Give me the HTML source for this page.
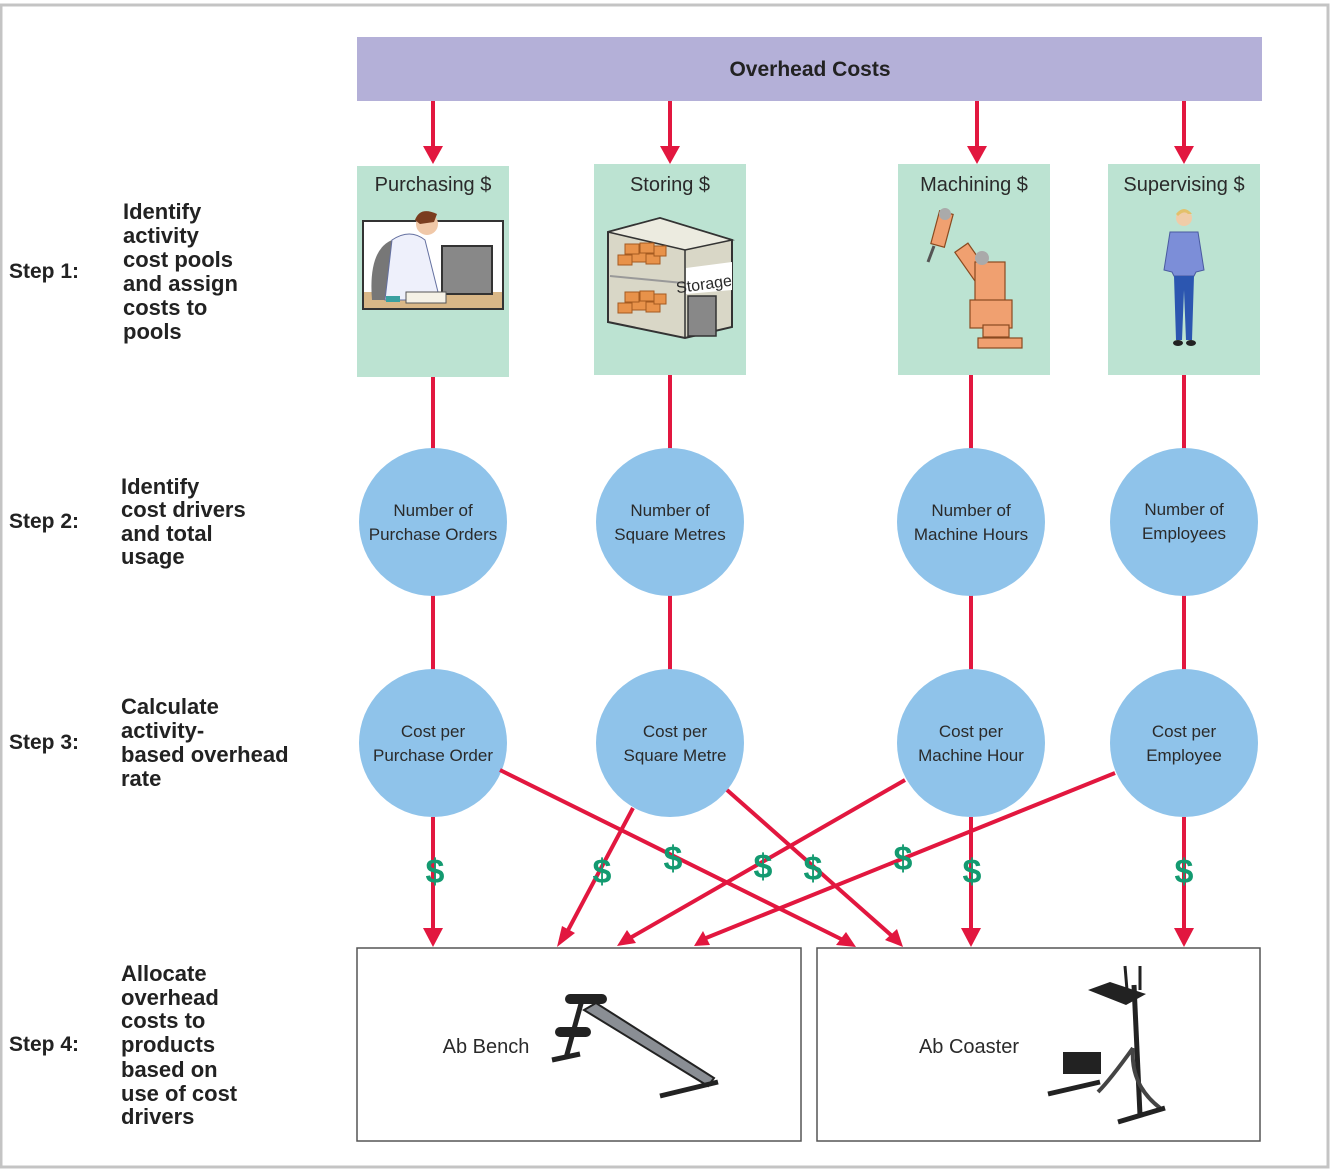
<!DOCTYPE html>
<html><head><meta charset="utf-8"><style>
html,body{margin:0;padding:0;background:#fff}
svg{display:block}
.t{font-family:"Liberation Sans",sans-serif;fill:#2a2a2a}
.b{font-family:"Liberation Sans",sans-serif;font-weight:bold;fill:#222}
</style></head><body>
<svg width="1334" height="1173" viewBox="0 0 1334 1173" xmlns="http://www.w3.org/2000/svg">
<defs>
<marker id="ah" markerWidth="10" markerHeight="10" refX="8" refY="5" orient="auto" markerUnits="userSpaceOnUse" viewBox="0 0 10 10">
</marker>
</defs>
<rect x="1" y="5" width="1327" height="1162" fill="none" stroke="#c4c4c4" stroke-width="3"/>
<!-- header -->
<rect x="357" y="37" width="905" height="64" fill="#b4b0d8"/>
<text x="810" y="76" text-anchor="middle" class="b" font-size="21">Overhead Costs</text>

<g stroke="#e2173f" stroke-width="4" fill="none">
<line x1="433" y1="101" x2="433" y2="150"/>
<line x1="670" y1="101" x2="670" y2="150"/>
<line x1="977" y1="101" x2="977" y2="150"/>
<line x1="1184" y1="101" x2="1184" y2="150"/>
<line x1="433" y1="377" x2="433" y2="450"/>
<line x1="670" y1="375" x2="670" y2="450"/>
<line x1="971" y1="375" x2="971" y2="450"/>
<line x1="1184" y1="375" x2="1184" y2="450"/>
<line x1="433" y1="595" x2="433" y2="670"/>
<line x1="670" y1="595" x2="670" y2="670"/>
<line x1="971" y1="595" x2="971" y2="670"/>
<line x1="1184" y1="595" x2="1184" y2="670"/>
</g>
<g fill="#e2173f">
<polygon points="423,146 443,146 433,164"/>
<polygon points="660,146 680,146 670,164"/>
<polygon points="967,146 987,146 977,164"/>
<polygon points="1174,146 1194,146 1184,164"/>
</g>

<!-- activity boxes -->
<rect x="357" y="166" width="152" height="211" fill="#bce3d2"/>
<rect x="594" y="164" width="152" height="211" fill="#bce3d2"/>
<rect x="898" y="164" width="152" height="211" fill="#bce3d2"/>
<rect x="1108" y="164" width="152" height="211" fill="#bce3d2"/>
<text x="433" y="191" text-anchor="middle" class="t" font-size="20">Purchasing $</text>
<text x="670" y="191" text-anchor="middle" class="t" font-size="20">Storing $</text>
<text x="974" y="191" text-anchor="middle" class="t" font-size="20">Machining $</text>
<text x="1184" y="191" text-anchor="middle" class="t" font-size="20">Supervising $</text>

<!-- purchasing illustration -->
<rect x="363" y="221" width="140" height="88" fill="#fff" stroke="#333" stroke-width="2"/>
<rect x="364" y="292" width="138" height="16" fill="#d9b787"/>
<path d="M372 300 Q368 250 392 240 L398 300Z" fill="#777"/>
<path d="M385 300 L392 240 Q410 228 425 240 L438 292 L410 300Z" fill="#eef0fb" stroke="#6470a0" stroke-width="1"/>
<circle cx="427" cy="224" r="11" fill="#f0c8a8"/>
<path d="M415 220 Q420 206 437 214 L434 222 L420 224Z" fill="#7a3d1f"/>
<rect x="442" y="246" width="50" height="48" fill="#888" stroke="#333" stroke-width="2"/>
<rect x="406" y="292" width="40" height="11" fill="#f5f1e6" stroke="#555" stroke-width="1"/>
<rect x="386" y="296" width="14" height="6" fill="#3aa0a0"/>

<!-- storage illustration -->
<polygon points="608,232 660,218 732,240 732,327 685,338 608,322" fill="#d9d7c7" stroke="#333" stroke-width="2"/>
<polygon points="608,232 660,218 732,240 685,250" fill="#ecebe0" stroke="#333" stroke-width="1.5"/>
<line x1="685" y1="250" x2="685" y2="338" stroke="#333" stroke-width="1.5"/>
<line x1="610" y1="276" x2="683" y2="283" stroke="#999" stroke-width="2"/>
<g fill="#e8924a" stroke="#a55a20" stroke-width="1">
<rect x="618" y="255" width="14" height="10"/><rect x="632" y="252" width="14" height="10"/><rect x="646" y="254" width="14" height="10"/><rect x="625" y="244" width="14" height="10"/><rect x="640" y="243" width="14" height="10"/><rect x="654" y="246" width="12" height="10"/>
<rect x="618" y="303" width="14" height="10"/><rect x="632" y="300" width="14" height="10"/><rect x="646" y="302" width="14" height="10"/><rect x="625" y="292" width="14" height="10"/><rect x="640" y="291" width="14" height="10"/><rect x="654" y="294" width="12" height="10"/>
</g>
<polygon points="686,268 732,262 732,290 686,294" fill="#fff"/>
<text x="676" y="290" class="t" font-size="16" transform="rotate(-8 700 285)">Storage</text>
<rect x="688" y="296" width="28" height="40" fill="#888" stroke="#333" stroke-width="1.5"/>

<!-- robot -->
<g fill="#f0a070" stroke="#8a4a20" stroke-width="1.2">
<rect x="962" y="245" width="16" height="60" transform="rotate(-35 970 260)"/>
<rect x="935" y="212" width="14" height="34" transform="rotate(15 942 229)"/>
<rect x="975" y="262" width="30" height="60"/>
<rect x="970" y="300" width="42" height="28"/>
<rect x="983" y="325" width="26" height="12"/>
<rect x="978" y="338" width="44" height="10"/>
</g>
<circle cx="945" cy="214" r="6" fill="#aaa"/><circle cx="982" cy="258" r="7" fill="#aaa"/>
<line x1="934" y1="246" x2="928" y2="262" stroke="#555" stroke-width="3"/>

<!-- woman -->
<circle cx="1184" cy="218" r="8" fill="#f0cca8"/>
<path d="M1176 214 Q1184 204 1192 214 L1188 214 Q1184 210 1178 216Z" fill="#e3c06a"/>
<path d="M1170 232 L1198 232 L1204 270 L1196 272 L1194 276 L1174 276 L1172 272 L1164 270Z" fill="#7c8ed8" stroke="#4a5aa0" stroke-width="1"/>
<path d="M1174 276 L1194 276 L1192 340 L1186 340 L1184 290 L1182 340 L1176 340Z" fill="#2c56b0"/>
<ellipse cx="1178" cy="343" rx="5" ry="3" fill="#222"/><ellipse cx="1191" cy="343" rx="5" ry="3" fill="#222"/>

<!-- circles -->
<g fill="#8fc3ea">
<circle cx="433" cy="522" r="74"/><circle cx="670" cy="522" r="74"/><circle cx="971" cy="522" r="74"/><circle cx="1184" cy="522" r="74"/>
<circle cx="433" cy="743" r="74"/><circle cx="670" cy="743" r="74"/><circle cx="971" cy="743" r="74"/><circle cx="1184" cy="743" r="74"/>
</g>
<g class="t" font-size="17" text-anchor="middle">
<text x="433" y="516">Number of</text><text x="433" y="540">Purchase Orders</text>
<text x="670" y="516">Number of</text><text x="670" y="540">Square Metres</text>
<text x="971" y="516">Number of</text><text x="971" y="540">Machine Hours</text>
<text x="1184" y="515">Number of</text><text x="1184" y="539">Employees</text>
<text x="433" y="737">Cost per</text><text x="433" y="761">Purchase Order</text>
<text x="675" y="737">Cost per</text><text x="675" y="761">Square Metre</text>
<text x="971" y="737">Cost per</text><text x="971" y="761">Machine Hour</text>
<text x="1184" y="737">Cost per</text><text x="1184" y="761">Employee</text>
</g>

<!-- allocation lines -->
<g stroke="#e2173f" stroke-width="4" fill="none">
<line x1="433" y1="817" x2="433" y2="932"/>
<line x1="500" y1="770" x2="843" y2="940"/>
<line x1="633" y1="808" x2="566" y2="934"/>
<line x1="727" y1="790" x2="892" y2="936"/>
<line x1="905" y1="780" x2="630" y2="938"/>
<line x1="971" y1="817" x2="971" y2="932"/>
<line x1="1115" y1="773" x2="706" y2="938"/>
<line x1="1184" y1="817" x2="1184" y2="932"/>
</g>
<g fill="#e2173f">
<polygon points="423,928 443,928 433,947"/>
<polygon points="961,928 981,928 971,947"/>
<polygon points="1174,928 1194,928 1184,947"/>
<polygon points="557,947 562,926 575,933"/>
<polygon points="617,946 627,930 636,943"/>
<polygon points="694,946 703,931 710,945"/>
<polygon points="856,947 836,945 846,932"/>
<polygon points="903,947 885,940 897,929"/>
</g>
<g font-family="Liberation Sans,sans-serif" font-weight="bold" font-size="34" fill="#139a70" text-anchor="middle">
<text x="435" y="883">$</text><text x="602" y="883">$</text><text x="673" y="870">$</text><text x="763" y="878">$</text>
<text x="813" y="880">$</text><text x="903" y="870">$</text><text x="972" y="883">$</text><text x="1184" y="883">$</text>
</g>

<!-- product boxes -->
<rect x="357" y="948" width="444" height="193" fill="#fff" stroke="#555" stroke-width="1.5"/>
<rect x="817" y="948" width="443" height="193" fill="#fff" stroke="#555" stroke-width="1.5"/>
<text x="486" y="1053" text-anchor="middle" class="t" font-size="20">Ab Bench</text>
<text x="969" y="1053" text-anchor="middle" class="t" font-size="20">Ab Coaster</text>
<!-- bench -->
<polygon points="584,1010 596,1003 714,1078 708,1086" fill="#8a8e94" stroke="#222" stroke-width="2"/>
<line x1="582" y1="1000" x2="566" y2="1058" stroke="#222" stroke-width="5"/>
<rect x="565" y="994" width="42" height="10" rx="5" fill="#222"/>
<rect x="555" y="1027" width="36" height="10" rx="5" fill="#222"/>
<line x1="552" y1="1060" x2="580" y2="1054" stroke="#222" stroke-width="5"/>
<line x1="660" y1="1096" x2="718" y2="1082" stroke="#222" stroke-width="5"/>
<!-- coaster -->
<line x1="1134" y1="985" x2="1140" y2="1115" stroke="#222" stroke-width="5"/>
<path d="M1088 990 L1110 982 L1146 994 L1126 1005Z" fill="#222"/>
<line x1="1125" y1="966" x2="1127" y2="990" stroke="#222" stroke-width="3"/>
<line x1="1140" y1="966" x2="1140" y2="990" stroke="#222" stroke-width="3"/>
<path d="M1133 1048 Q1110 1080 1098 1092 M1133 1048 Q1130 1085 1160 1108" stroke="#444" stroke-width="4" fill="none"/>
<rect x="1063" y="1052" width="38" height="22" fill="#222"/>
<line x1="1048" y1="1094" x2="1100" y2="1082" stroke="#222" stroke-width="5"/>
<line x1="1118" y1="1122" x2="1165" y2="1108" stroke="#222" stroke-width="5"/>

<!-- step labels -->
<g class="b" font-size="21">
<text x="9" y="278">Step 1:</text>
<text x="9" y="528">Step 2:</text>
<text x="9" y="749">Step 3:</text>
<text x="9" y="1051">Step 4:</text>
</g>
<g class="b" font-size="22">
<text x="123" y="219">Identify</text><text x="123" y="243">activity</text><text x="123" y="267">cost pools</text><text x="123" y="291">and assign</text><text x="123" y="315">costs to</text><text x="123" y="339">pools</text>
<text x="121" y="494">Identify</text><text x="121" y="517">cost drivers</text><text x="121" y="541">and total</text><text x="121" y="564">usage</text>
<text x="121" y="714">Calculate</text><text x="121" y="738">activity-</text><text x="121" y="762">based overhead</text><text x="121" y="786">rate</text>
<text x="121" y="981">Allocate</text><text x="121" y="1005">overhead</text><text x="121" y="1028">costs to</text><text x="121" y="1052">products</text><text x="121" y="1077">based on</text><text x="121" y="1101">use of cost</text><text x="121" y="1124">drivers</text>
</g>
</svg>
</body></html>
